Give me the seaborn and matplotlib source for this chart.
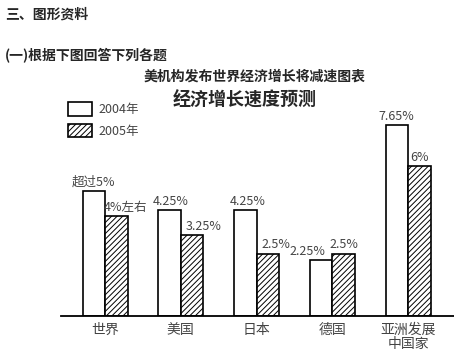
import pandas as pd
import matplotlib.pyplot as plt
import seaborn as sns
from matplotlib.patches import Patch

# Data
regions = ["世界", "美国", "日本", "德国", "亚洲发展\n中国家"]
rate_2004 = [5.0, 4.25, 4.25, 2.25, 7.65]
rate_2005 = [4.0, 3.25, 2.5, 2.5, 6.0]
labels_2004 = ["超过5%", "4.25%", "4.25%", "2.25%", "7.65%"]
labels_2005 = ["4%左右", "3.25%", "2.5%", "2.5%", "6%"]
years = ["2004年", "2005年"]

df = pd.DataFrame({
    "region": regions * 2,
    "rate": rate_2004 + rate_2005,
    "year": [years[0]] * len(regions) + [years[1]] * len(regions),
})

sns.set_style("white")
plt.rcParams["font.family"] = ["Noto Sans CJK SC", "DejaVu Sans"]
plt.rcParams["hatch.linewidth"] = 0.7

fig = plt.figure(figsize=(4.54, 3.55), dpi=100)
W, H = 454, 355
# axes: baseline at y=316px, left edge 61px
ax = fig.add_axes([61 / W, (H - 316) / H, 1 - 61 / W, 216 / H])

sns.barplot(data=df, x="region", y="rate", hue="year", palette=["white", "white"],
            edgecolor="black", linewidth=1.2, width=0.594, legend=False, ax=ax)

for p in ax.containers[1]:
    p.set_hatch("//////")

ax.set_xlim(-0.581, 4.607)
ax.set_ylim(0, 216 / 25.0)

# value labels (small x nudges in points to follow the original)
nudge_2004 = [0, 1, 2, -10, 0]
nudge_2005 = [7, 8, 6, 0, 0]
for bars, labs, nud in [(ax.containers[0], labels_2004, nudge_2004),
                        (ax.containers[1], labels_2005, nudge_2005)]:
    for bar, lab, dx in zip(bars, labs, nud):
        ax.annotate(lab, (bar.get_x() + bar.get_width() / 2, bar.get_height()),
                    xytext=(dx, 1.5), textcoords="offset points",
                    ha="center", va="bottom", fontsize=9, color="#444444")

sns.despine(ax=ax, left=True, top=True, right=True)
ax.spines["bottom"].set_linewidth(1.3)
ax.spines["bottom"].set_color("black")
ax.set_yticks([])
ax.set_xlabel("")
ax.set_ylabel("")
ax.tick_params(axis="x", length=0, pad=5, labelsize=10, labelcolor="#444444")
for t in ax.get_xticklabels():
    t.set_linespacing(1.0)

# legend
handles = [Patch(facecolor="white", edgecolor="black", linewidth=1.2),
           Patch(facecolor="white", edgecolor="black", linewidth=1.2, hatch="//////")]
fig.legend(handles, years, loc="upper left", bbox_to_anchor=(68 / W, 1 - 102 / H),
           frameon=False, fontsize=9, handlelength=1.9, handleheight=1.3,
           labelspacing=0.6, handletextpad=0.55, borderpad=0, borderaxespad=0,
           labelcolor="#444444")

# titles
fig.text(5 / W, 1 - 15 / H, "三、图形资料", fontsize=10, fontweight="bold", va="center")
fig.text(5 / W, 1 - 55 / H, "(一)根据下图回答下列各题", fontsize=10, fontweight="bold", va="center")
fig.text(255 / W, 1 - 77 / H, "美机构发布世界经济增长将减速图表", fontsize=10,
         fontweight="bold", ha="center", va="center")
fig.text(245 / W, 1 - 100 / H, "经济增长速度预测", fontsize=13, fontweight="heavy",
         ha="center", va="center")

fig.savefig("out.png", dpi=100)
